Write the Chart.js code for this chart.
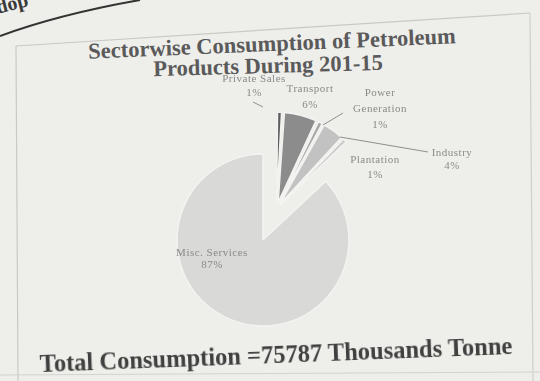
<!DOCTYPE html>
<html lang="en">
<head>
<meta charset="UTF-8">
<title>Sectorwise Consumption of Petroleum Products</title>
<script src="https://cdn.jsdelivr.net/npm/chart.js"></script>
<style>
  body {
    margin: 0;
    width: 540px;
    height: 381px;
    overflow: hidden;
    position: relative;
    background: #eeeeeb;
    font-family: "Liberation Serif", "DejaVu Serif", serif;
  }
  .deco { position: absolute; left: 0; top: 0; }
  .chart-box { position: absolute; left: 0; top: 0; width: 540px; height: 381px; }
  .title {
    position: absolute;
    left: 0; width: 540px;
    text-align: center;
    color: #5a5a5a;
    font-weight: bold;
    font-size: 22.5px;
    line-height: 24px;
  }
  .t1 { top: 32px; left: 2px; transform: rotate(-2.4deg); }
  .t2 { top: 54px; left: -2px; transform: rotate(-1.6deg); }
  .total {
    position: absolute;
    left: 6px; top: 341px; width: 540px;
    text-align: center;
    font-size: 24.5px;
    font-weight: bold;
    color: #404040;
    transform: rotate(-2.2deg);
  }
  .corner {
    position: absolute;
    left: -4px; top: -8px;
    font-size: 20px;
    font-weight: bold;
    color: #3a3a3a;
    transform: rotate(-14deg);
  }
</style>
</head>
<body>
<svg class="deco" width="540" height="381">
  <!-- frame around the figure and the page curl above it -->
  <path d="M0 36 Q60 14 140 0" stroke="#333" stroke-width="2" fill="none"/>
  <path d="M16 46 L530 13" stroke="#c9c9c6" stroke-width="1.2" fill="none"/>
  <path d="M16 46 L18 381" stroke="#c9c9c6" stroke-width="1.2" fill="none"/>
  <path d="M530 13 L533 381" stroke="#cfcfcc" stroke-width="1.2" fill="none"/>
  <path d="M0 375 L540 372" stroke="#d2d2cf" stroke-width="1" fill="none"/>
</svg>
<div class="corner">dop</div>
<div class="title t1">Sectorwise Consumption of Petroleum</div>
<div class="title t2">Products During 201-15</div>
<div class="chart-box"><canvas id="pie"></canvas></div>
<div class="total">Total Consumption =75787 Thousands Tonne</div>

<script>
  // sectors and their share of consumption (%)
  const sectors = ['Private Sales', 'Transport', 'Power Generation', 'Industry', 'Plantation', 'Misc. Services'];
  const shares = [1, 6, 1, 4, 1, 87];
  const shades = ['#5f5f5f', '#8c8c8c', '#a6a6a6', '#c2c2c2', '#cdcdcd', '#d9d9d8'];
  // slices pulled out together as one block, each also nudged a little on its own
  const pulledOut = [true, true, true, true, true, false];
  const pullDistance = 34;
  const nudge = [22, 26, 22, 24, 22, 0];

  // label lines and their placement relative to the pie centre
  const labelLines = [
    ['Private Sales', '1%'],
    ['Transport', '6%'],
    ['Power', 'Generation', '1%'],
    ['Industry', '4%'],
    ['Plantation', '1%'],
    ['Misc. Services', '87%']
  ];
  const labelAt = [[-9, -161], [47, -151], [117, -147], [189, -87], [112, -80], [-51, 13]];
  const lineGap = [14, 16, 16, 13, 15, 12];
  const leaders = [
    [[-10, -138], [0, -133]],
    null,
    [[60, -115], [80, -127]],
    [[77, -103], [165, -88]],
    null,
    null
  ];

  // move the small slices away from the centre along the middle of their block
  const explodeBlock = {
    id: 'explodeBlock',
    afterDatasetUpdate(chart, args) {
      const arcs = chart.getDatasetMeta(args.index).data;
      const picked = arcs.filter((a, i) => pulledOut[i]);
      if (!picked.length) return;
      const start = Math.min(...picked.map(a => a.startAngle));
      const end = Math.max(...picked.map(a => a.endAngle));
      const mid = (start + end) / 2;
      picked.forEach(a => {
        a.x += Math.cos(mid) * pullDistance;
        a.y += Math.sin(mid) * pullDistance;
      });
    }
  };

  const sliceLabels = {
    id: 'sliceLabels',
    afterDatasetsDraw(chart) {
      const area = chart.chartArea;
      const cx = (area.left + area.right) / 2, cy = (area.top + area.bottom) / 2;
      const ctx = chart.ctx;
      ctx.save();
      ctx.fillStyle = '#8a8a8a';
      ctx.strokeStyle = '#8e8e8e';
      ctx.lineWidth = 1;
      ctx.font = '11px "Liberation Serif", serif';
      ctx.letterSpacing = '0.5px';
      ctx.textAlign = 'center';
      ctx.textBaseline = 'middle';
      labelLines.forEach((lines, i) => {
        const [dx, dy] = labelAt[i];
        lines.forEach((t, k) => ctx.fillText(t, cx + dx, cy + dy + k * lineGap[i]));
        const l = leaders[i];
        if (l) {
          ctx.beginPath();
          ctx.moveTo(cx + l[0][0], cy + l[0][1]);
          ctx.lineTo(cx + l[1][0], cy + l[1][1]);
          ctx.stroke();
        }
      });
      ctx.restore();
    }
  };

  new Chart(document.getElementById('pie'), {
    type: 'pie',
    data: {
      labels: sectors,
      datasets: [{
        data: shares,
        backgroundColor: shades,
        borderColor: '#f3f3f1',
        borderWidth: 1.5,
        offset: nudge,
        radius: 86
      }]
    },
    options: {
      responsive: true,
      maintainAspectRatio: false,
      animation: false,
      layout: { padding: { left: 143, right: 157, top: 120, bottom: 21 } },
      plugins: {
        legend: { display: false },
        tooltip: { enabled: false }
      }
    },
    plugins: [explodeBlock, sliceLabels]
  });
</script>
</body>
</html>
